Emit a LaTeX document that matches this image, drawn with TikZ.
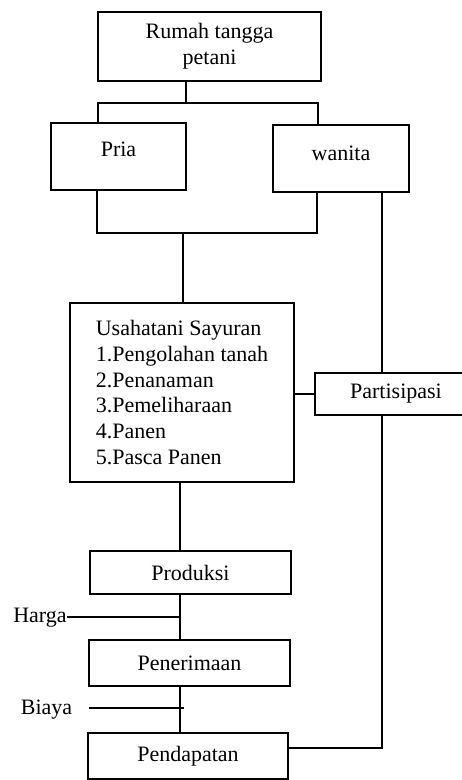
\documentclass[tikz,border=0pt]{standalone}
\usepackage{fontspec}
\setmainfont{Liberation Serif}
\usetikzlibrary{calc}

\begin{document}
\begin{tikzpicture}[x=1pt,y=-1pt,
    box/.style={draw,line width=2.8pt,inner sep=0pt,font=\fontsize{22}{25.8}\selectfont},
    lbl/.style={inner sep=0pt,font=\fontsize{22}{25.8}\selectfont},
    link/.style={line width=1.9pt}]
    \useasboundingbox (0,0) rectangle (462,780);
    \clip (0,0) rectangle (462,780); % Clips the picture...

    \node[box,minimum width=223pt,minimum height=69pt,align=center] (Rumah) at (209.5,46.5) {Rumah tangga\\petani};
    \node[box,minimum width=135pt,minimum height=67pt,text depth=14pt] (Pria)   at (118.5,156.5) {Pria};
    \node[box,minimum width=136pt,minimum height=67pt,text depth=11pt] (Wanita) at (341,158.5) {wanita};
    \node[box,minimum width=224pt,minimum height=179pt,align=left] (Usaha) at (182,392.5)
      {Usahatani Sayuran\\1.Pengolahan tanah\\2.Penanaman\\3.Pemeliharaan\\4.Panen\\5.Pasca Panen};
    \node[box,minimum width=162pt,minimum height=42pt] (Partisipasi) at (396,394) {Partisipasi};
    \node[box,minimum width=201pt,minimum height=43pt] (Produksi)   at (190.5,572.5) {Produksi};
    \node[box,minimum width=201pt,minimum height=46pt] (Penerimaan) at (189.5,663) {Penerimaan};
    \node[box,minimum width=200pt,minimum height=46pt] (Pendapatan) at (188,756) {Pendapatan};
    \node[lbl] (Harga) at (40,618) {Harga};
    \node[lbl] (Biaya) at (46.5,710) {Biaya};

    \coordinate (TopSplit)  at (186,103);
    \coordinate (PriaIn)    at (98,103);
    \coordinate (WanitaIn)  at (318,103);
    \coordinate (PriaOut)   at (97,233);
    \coordinate (WanitaOut) at (317,233);
    \coordinate (Join)      at (183,233);
    \coordinate (Side)      at (382,748);
    \coordinate (Spine)     at (180,617);
    \coordinate (BiayaFrom) at (89,708);
    \coordinate (BiayaTo)   at (184,708);

    \draw[link] (Rumah.south -| TopSplit) -- (TopSplit);
    \draw[link] (Pria.north -| PriaIn) -- (PriaIn) -- (WanitaIn) -- (Wanita.north -| WanitaIn);
    \draw[link] (Pria.south -| PriaOut) -- (PriaOut) -- (WanitaOut) -- (Wanita.south -| WanitaOut);
    \draw[link] (Join) -- (Usaha.north -| Join);
    \draw[link] (Wanita.south -| Side) -- (Partisipasi.north -| Side);
    \draw[link] (Partisipasi.south -| Side) -- (Side) -- (Pendapatan.east |- Side);
    \draw[link] (Usaha.east |- Partisipasi.west) -- (Partisipasi.west);
    \draw[link] (Usaha.south -| Spine) -- (Produksi.north -| Spine);
    \draw[link] (Produksi.south -| Spine) -- (Penerimaan.north -| Spine);
    \draw[link] (Penerimaan.south -| Spine) -- (Pendapatan.north -| Spine);
    \draw[link] (Harga.east |- Spine) -- (Spine);
    \draw[link] (BiayaFrom) -- (BiayaTo);
  \end{tikzpicture}
\end{document}
